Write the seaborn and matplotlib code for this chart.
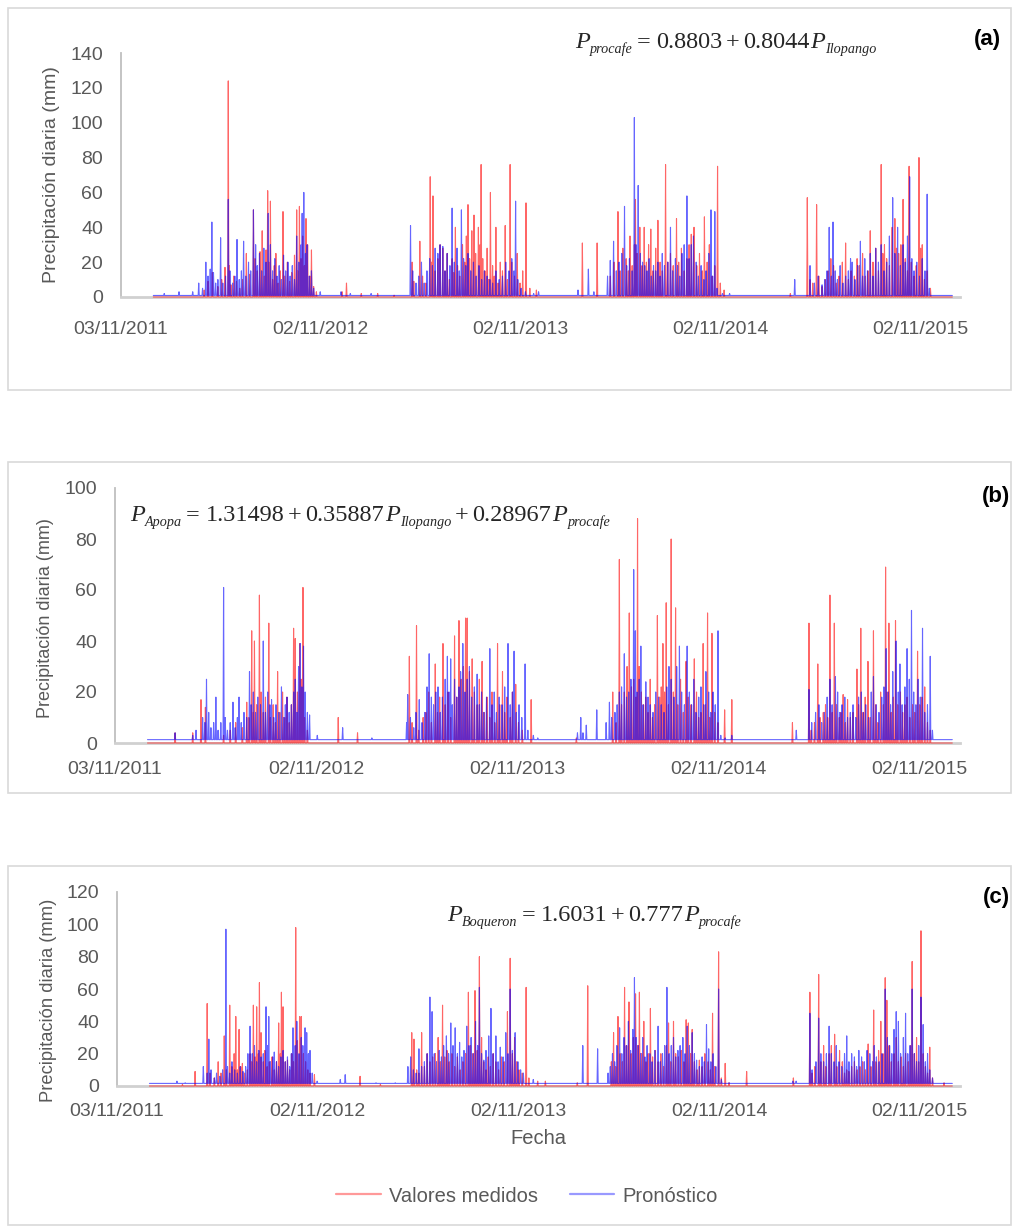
import numpy as np
import pandas as pd
import matplotlib
matplotlib.use("Agg")
import matplotlib.pyplot as plt
import matplotlib.dates as mdates
from matplotlib.patches import Rectangle
from matplotlib.lines import Line2D
import seaborn as sns

sns.set_theme(style="white")
plt.rcParams["font.family"] = ["Liberation Sans", "DejaVu Sans"]

# ---------------------------------------------------------------------------
# Datos: precipitación diaria (mm), días contados desde fecha_inicio
# ---------------------------------------------------------------------------
fecha_inicio = "2012-01-01"
fecha_fin = "2015-12-31"
ticks_fecha = ["2011-11-03", "2012-11-02", "2013-11-02", "2014-11-02", "2015-11-02"]
eje_inicio = "2011-11-03"
eje_fin = "2016-01-14"

intercepto = {"a": 0.8803, "b": 1.31498, "c": 1.6031}

# (a) Procafe
a_medidos = [
    (93, 4), (100, 9), (108, 14), (118, 6), (125, 10), (131, 17), (137, 124), (139, 18), (142, 7),
    (147, 12), (152, 9), (158, 5), (163, 10), (170, 25), (176, 13), (183, 50), (186, 22), (190, 15),
    (195, 26), (199, 38), (203, 12), (206, 27), (209, 61), (211, 20), (214, 55), (218, 10), (221, 18),
    (224, 25), (228, 8), (232, 15), (237, 49), (240, 12), (245, 20), (249, 9), (253, 14), (258, 24),
    (262, 50), (264, 15), (267, 52), (270, 22), (273, 35), (276, 18), (279, 45), (282, 30), (286, 12),
    (289, 27), (293, 6), (298, 3), (345, 3), (353, 8), (380, 2), (410, 2), (440, 1),
    (473, 20), (476, 9), (487, 32), (492, 12), (498, 8), (506, 69), (508, 20), (511, 58), (515, 15),
    (520, 22), (524, 30), (529, 28), (533, 15), (537, 25), (541, 10), (546, 22), (549, 14), (552, 40),
    (556, 18), (560, 12), (565, 30), (569, 20), (572, 35), (575, 53), (578, 22), (582, 38), (586, 47),
    (589, 25), (594, 40), (597, 30), (599, 76), (602, 22), (606, 15), (610, 28), (613, 10), (616, 60),
    (620, 18), (623, 12), (626, 40), (630, 8), (634, 20), (638, 15), (643, 41), (647, 10), (652, 76),
    (655, 20), (660, 12), (665, 25), (670, 8), (675, 15), (681, 54), (688, 5), (700, 4),
    (784, 31), (811, 31),
    (835, 12), (842, 20), (849, 49), (853, 15), (858, 28), (864, 22), (868, 15), (871, 35), (875, 18),
    (879, 30), (881, 56), (884, 25), (889, 40), (893, 18), (897, 40), (901, 20), (905, 30), (909, 39),
    (913, 15), (918, 28), (922, 44), (926, 20), (930, 15), (936, 76), (940, 20), (945, 25), (950, 18),
    (956, 45), (960, 20), (965, 28), (970, 15), (975, 22), (979, 30), (983, 36), (988, 40), (993, 18),
    (998, 25), (1003, 15), (1007, 46), (1012, 20), (1016, 30), (1021, 12), (1026, 18), (1031, 75),
    (1036, 8), (1043, 4), (1164, 2),
    (1195, 57), (1200, 10), (1205, 8), (1212, 53), (1216, 12), (1222, 6), (1228, 10), (1233, 15),
    (1238, 22), (1243, 18), (1248, 8), (1253, 12), (1259, 20), (1265, 31), (1270, 10), (1275, 15),
    (1281, 12), (1286, 22), (1290, 18), (1296, 25), (1301, 12), (1306, 15), (1310, 38), (1315, 20),
    (1320, 28), (1325, 15), (1330, 76), (1333, 25), (1336, 30), (1340, 22), (1345, 18), (1350, 40),
    (1355, 45), (1358, 28), (1362, 25), (1366, 30), (1370, 56), (1374, 22), (1378, 15), (1381, 75),
    (1385, 20), (1390, 12), (1394, 18), (1399, 80), (1402, 28), (1405, 30), (1409, 10), (1414, 15),
    (1420, 5),
]
a_pronostico = [
    (20, 2), (47, 3), (72, 3),
    (83, 8), (90, 5), (96, 20), (100, 12), (104, 16), (107, 43), (110, 14), (114, 8), (118, 10),
    (123, 34), (127, 8), (132, 12), (137, 56), (140, 15), (145, 8), (149, 12), (153, 33), (157, 10),
    (161, 15), (165, 32), (169, 12), (174, 20), (178, 15), (183, 50), (187, 30), (190, 18), (194, 25),
    (198, 15), (202, 28), (206, 20), (210, 48), (214, 30), (218, 15), (222, 22), (226, 12), (230, 18),
    (234, 10), (238, 24), (242, 15), (246, 20), (250, 12), (254, 18), (258, 10), (262, 35), (266, 20),
    (270, 30), (272, 48), (275, 60), (278, 25), (281, 30), (285, 12), (289, 15), (293, 5), (305, 3),
    (343, 3), (360, 2), (398, 2),
    (470, 41), (474, 15), (480, 8), (485, 12), (490, 20), (495, 8), (500, 15), (505, 22), (510, 18),
    (515, 28), (520, 25), (524, 30), (529, 29), (533, 15), (537, 25), (542, 18), (546, 51), (550, 20),
    (555, 28), (559, 15), (563, 50), (567, 22), (571, 18), (575, 25), (580, 15), (585, 20), (590, 12),
    (595, 18), (600, 10), (605, 15), (610, 12), (615, 10), (620, 8), (626, 15), (632, 10), (638, 12),
    (644, 20), (650, 15), (655, 22), (659, 15), (662, 55), (666, 10), (672, 5), (680, 3), (695, 2),
    (704, 3), (776, 4), (795, 16), (805, 3),
    (830, 12), (835, 21), (841, 32), (846, 15), (851, 20), (856, 25), (861, 52), (865, 18), (870, 22),
    (875, 15), (879, 103), (882, 30), (886, 64), (890, 25), (894, 20), (898, 18), (902, 15), (906, 22),
    (910, 12), (914, 18), (918, 15), (922, 20), (926, 12), (930, 25), (934, 18), (940, 20), (945, 40),
    (949, 15), (954, 22), (958, 18), (962, 12), (966, 25), (970, 30), (975, 58), (979, 22), (983, 30),
    (987, 35), (992, 20), (996, 12), (1001, 18), (1006, 10), (1010, 15), (1015, 25), (1019, 50),
    (1022, 12), (1026, 49), (1030, 5), (1040, 2), (1053, 2), (1172, 10),
    (1200, 18), (1208, 8), (1215, 12), (1222, 7), (1227, 10), (1231, 15), (1235, 40), (1239, 12),
    (1242, 43), (1246, 15), (1250, 10), (1255, 18), (1260, 8), (1265, 12), (1270, 15), (1274, 22),
    (1277, 20), (1282, 10), (1287, 18), (1292, 32), (1296, 12), (1300, 22), (1305, 15), (1310, 25),
    (1315, 12), (1320, 28), (1325, 20), (1330, 30), (1335, 15), (1340, 20), (1345, 35), (1351, 57),
    (1355, 25), (1360, 40), (1365, 18), (1370, 30), (1374, 20), (1378, 35), (1382, 69), (1386, 22),
    (1390, 15), (1395, 20), (1400, 12), (1405, 22), (1410, 15), (1414, 59), (1418, 5),
]

# (b) Apopa
b_medidos = [
    (50, 4), (82, 4), (97, 17), (105, 14), (138, 3), (150, 5), (160, 8), (172, 6), (180, 16),
    (184, 10), (189, 44), (192, 12), (194, 40), (198, 15), (203, 58), (206, 20), (210, 12), (214, 18),
    (220, 47), (223, 10), (228, 15), (232, 8), (236, 28), (240, 12), (245, 20), (249, 10), (253, 18),
    (257, 8), (261, 15), (265, 45), (268, 41), (272, 20), (276, 39), (279, 25), (282, 61), (285, 10),
    (290, 5), (346, 10), (381, 4),
    (475, 34), (480, 8), (488, 46), (492, 5), (500, 10), (505, 12), (510, 20), (515, 8), (522, 31),
    (526, 12), (530, 18), (536, 39), (540, 15), (545, 20), (550, 10), (557, 42), (561, 18), (565, 48),
    (569, 25), (573, 30), (577, 49), (580, 49), (584, 28), (589, 33), (593, 20), (598, 15), (602, 25),
    (607, 32), (611, 12), (616, 18), (621, 10), (625, 20), (630, 8), (635, 39), (639, 15), (644, 28),
    (648, 12), (652, 18), (658, 10), (662, 20), (668, 23), (673, 8), (680, 5), (696, 17), (778, 2),
    (844, 20), (850, 8), (856, 72), (860, 15), (865, 20), (870, 30), (874, 51), (878, 22), (882, 25),
    (886, 18), (889, 88), (892, 30), (896, 20), (900, 15), (904, 18), (908, 12), (912, 25), (916, 10),
    (920, 15), (925, 50), (929, 18), (932, 22), (935, 39), (938, 20), (941, 55), (945, 15), (950, 80),
    (954, 20), (958, 53), (962, 15), (967, 25), (972, 12), (977, 32), (981, 18), (986, 15), (992, 33),
    (996, 20), (1000, 10), (1004, 12), (1008, 39), (1012, 15), (1016, 51), (1020, 10), (1024, 43),
    (1029, 12), (1035, 8), (1047, 13), (1060, 17), (1170, 8),
    (1200, 47), (1204, 5), (1210, 8), (1216, 31), (1220, 10), (1226, 12), (1230, 15), (1234, 10),
    (1238, 58), (1242, 12), (1246, 47), (1250, 15), (1255, 10), (1258, 12), (1262, 19), (1266, 8),
    (1270, 17), (1275, 10), (1280, 12), (1287, 29), (1290, 15), (1294, 45), (1298, 12), (1302, 18),
    (1307, 32), (1311, 10), (1317, 44), (1321, 15), (1325, 8), (1330, 20), (1335, 15), (1339, 69),
    (1342, 20), (1345, 47), (1349, 12), (1353, 18), (1357, 48), (1361, 15), (1366, 20), (1370, 12),
    (1374, 15), (1378, 18), (1383, 10), (1388, 15), (1392, 12), (1397, 36), (1401, 15), (1405, 18),
    (1410, 22), (1415, 8), (1420, 5),
]
b_pronostico = [
    (50, 4), (82, 3), (88, 5), (100, 10), (104, 8), (107, 25), (111, 12), (115, 6), (120, 8),
    (124, 18), (128, 5), (133, 8), (138, 61), (141, 10), (145, 5), (150, 8), (155, 16), (159, 6),
    (163, 10), (166, 18), (170, 8), (175, 12), (180, 10), (185, 28), (188, 15), (192, 20), (196, 12),
    (200, 18), (205, 15), (210, 40), (214, 12), (218, 20), (222, 15), (225, 17), (229, 10), (233, 15),
    (238, 12), (243, 22), (247, 10), (250, 15), (253, 18), (257, 12), (261, 15), (265, 20), (268, 25),
    (271, 12), (274, 30), (277, 39), (280, 22), (283, 38), (286, 20), (290, 12), (294, 11), (308, 3),
    (354, 6), (407, 2),
    (470, 8), (472, 19), (477, 10), (483, 6), (487, 12), (493, 17), (498, 8), (503, 12), (507, 22),
    (511, 35), (515, 18), (519, 15), (523, 20), (527, 22), (531, 12), (535, 18), (540, 25), (544, 34),
    (547, 20), (550, 33), (553, 15), (557, 25), (561, 18), (565, 22), (568, 28), (572, 39), (576, 20),
    (580, 25), (584, 30), (588, 18), (593, 22), (598, 27), (602, 15), (606, 20), (610, 12), (615, 18),
    (621, 37), (625, 15), (629, 20), (633, 12), (638, 18), (643, 15), (648, 22), (654, 39), (658, 15),
    (662, 20), (665, 36), (669, 12), (674, 15), (679, 10), (685, 31), (690, 5), (700, 3), (708, 2),
    (780, 4), (786, 10), (790, 4), (796, 7), (815, 13),
    (832, 8), (838, 16), (842, 10), (848, 12), (852, 15), (856, 20), (860, 22), (865, 35), (869, 18),
    (873, 20), (877, 25), (882, 68), (885, 44), (888, 20), (892, 25), (895, 38), (899, 15), (904, 24),
    (908, 18), (912, 15), (917, 12), (922, 20), (927, 18), (932, 15), (937, 12), (942, 22), (946, 30),
    (950, 25), (955, 18), (960, 30), (965, 38), (969, 20), (974, 15), (979, 38), (983, 20), (987, 15),
    (991, 25), (995, 12), (1000, 18), (1004, 22), (1009, 15), (1013, 28), (1018, 20), (1022, 12),
    (1026, 20), (1030, 15), (1035, 44), (1040, 3), (1048, 2), (1060, 3), (1177, 5),
    (1200, 21), (1205, 8), (1212, 12), (1218, 15), (1223, 8), (1228, 12), (1233, 18), (1238, 25),
    (1242, 15), (1248, 26), (1252, 20), (1256, 12), (1260, 15), (1265, 18), (1270, 10), (1275, 12),
    (1280, 15), (1285, 10), (1290, 18), (1295, 20), (1299, 12), (1303, 15), (1308, 10), (1313, 20),
    (1317, 26), (1322, 15), (1327, 12), (1332, 18), (1336, 22), (1340, 37), (1344, 20), (1348, 15),
    (1352, 28), (1358, 40), (1362, 20), (1365, 31), (1369, 15), (1374, 22), (1378, 37), (1382, 25),
    (1386, 52), (1390, 20), (1394, 15), (1398, 25), (1402, 18), (1406, 45), (1410, 12), (1415, 15),
    (1420, 34), (1424, 5),
]

# (c) Boquerón
c_medidos = [
    (60, 1), (83, 9), (105, 51), (110, 8), (118, 5), (125, 15), (130, 8), (136, 31), (140, 10),
    (146, 50), (150, 12), (154, 20), (157, 43), (160, 10), (163, 35), (166, 12), (169, 14), (173, 8),
    (178, 10), (183, 20), (186, 15), (189, 50), (192, 18), (195, 49), (198, 20), (200, 64), (203, 33),
    (207, 15), (210, 22), (214, 12), (218, 15), (223, 18), (227, 10), (231, 15), (235, 39), (238, 20),
    (240, 58), (243, 49), (247, 15), (251, 16), (255, 10), (259, 20), (262, 15), (266, 98), (269, 28),
    (273, 43), (276, 43), (280, 20), (284, 15), (288, 10), (292, 8), (300, 7), (383, 6), (420, 1),
    (477, 33), (481, 29), (486, 10), (490, 8), (495, 33), (500, 12), (505, 20), (510, 15), (515, 18),
    (520, 20), (525, 30), (529, 15), (533, 50), (537, 18), (541, 22), (545, 15), (550, 20), (555, 12),
    (560, 18), (565, 10), (570, 15), (575, 20), (580, 58), (584, 25), (588, 20), (592, 59), (596, 22),
    (600, 80), (604, 30), (608, 15), (612, 10), (616, 18), (620, 12), (625, 20), (630, 15), (635, 10),
    (640, 18), (645, 15), (651, 46), (656, 79), (660, 20), (664, 30), (668, 15), (672, 10), (678, 8),
    (685, 61), (690, 5), (706, 3), (720, 3), (778, 2), (797, 62),
    (840, 15), (844, 33), (848, 12), (852, 43), (856, 20), (860, 15), (864, 61), (868, 25), (872, 52),
    (876, 20), (880, 30), (884, 57), (888, 25), (891, 58), (895, 20), (899, 40), (903, 15), (907, 20),
    (911, 48), (915, 18), (920, 22), (925, 15), (930, 20), (935, 12), (940, 25), (944, 39), (948, 15),
    (953, 40), (957, 20), (962, 18), (967, 22), (972, 15), (976, 41), (980, 39), (984, 20), (987, 35),
    (991, 15), (996, 10), (1000, 16), (1005, 12), (1010, 20), (1016, 15), (1020, 10), (1024, 45),
    (1028, 12), (1035, 83), (1040, 5), (1047, 14), (1054, 2), (1086, 9), (1171, 5),
    (1201, 58), (1205, 8), (1210, 12), (1217, 69), (1221, 15), (1226, 25), (1230, 12), (1236, 20),
    (1240, 25), (1246, 32), (1250, 12), (1255, 22), (1260, 15), (1264, 8), (1268, 10), (1272, 9),
    (1277, 12), (1282, 15), (1287, 10), (1292, 12), (1297, 15), (1302, 10), (1307, 26), (1312, 12),
    (1317, 47), (1321, 15), (1326, 22), (1330, 40), (1334, 20), (1338, 67), (1341, 53), (1345, 25),
    (1349, 15), (1354, 20), (1358, 30), (1362, 15), (1367, 18), (1371, 12), (1375, 20), (1380, 15),
    (1384, 25), (1387, 77), (1391, 20), (1395, 30), (1399, 15), (1403, 96), (1407, 20), (1411, 12),
    (1415, 8), (1419, 24), (1424, 5), (1445, 2),
]
c_pronostico = [
    (50, 3), (65, 2), (98, 12), (105, 8), (108, 29), (112, 10), (118, 5), (122, 8), (128, 6),
    (133, 10), (139, 97), (142, 12), (146, 8), (150, 15), (155, 10), (160, 8), (165, 12), (170, 9),
    (175, 12), (179, 20), (183, 37), (187, 20), (191, 25), (195, 15), (199, 22), (203, 18), (207, 20),
    (212, 49), (215, 25), (217, 43), (220, 15), (224, 18), (227, 21), (231, 15), (235, 12), (239, 18),
    (243, 22), (247, 15), (251, 18), (255, 12), (258, 20), (261, 36), (265, 25), (268, 40), (272, 20),
    (276, 30), (279, 25), (283, 36), (286, 33), (289, 20), (292, 22), (296, 8), (305, 3), (347, 4),
    (356, 7), (412, 2), (447, 2),
    (470, 12), (475, 18), (480, 10), (485, 8), (490, 23), (495, 12), (500, 15), (505, 20), (510, 55),
    (514, 46), (518, 20), (522, 15), (527, 22), (531, 18), (535, 25), (540, 31), (544, 20), (548, 39),
    (552, 25), (556, 36), (560, 20), (564, 27), (568, 18), (572, 22), (577, 37), (581, 25), (585, 30),
    (589, 20), (593, 40), (597, 25), (600, 61), (604, 20), (608, 16), (612, 22), (617, 31), (621, 48),
    (625, 20), (630, 31), (634, 15), (638, 24), (643, 18), (648, 33), (652, 20), (656, 60), (660, 22),
    (665, 33), (670, 15), (675, 10), (680, 8), (698, 4), (788, 25), (815, 23),
    (834, 8), (838, 12), (842, 20), (846, 15), (850, 25), (855, 36), (859, 20), (863, 30), (867, 25),
    (871, 40), (875, 22), (879, 35), (882, 67), (885, 30), (889, 25), (893, 20), (897, 30), (901, 18),
    (905, 25), (910, 20), (914, 15), (919, 22), (925, 37), (929, 15), (933, 20), (937, 25), (941, 61),
    (945, 20), (949, 25), (953, 30), (957, 18), (961, 22), (965, 25), (970, 30), (974, 20), (978, 37),
    (982, 25), (987, 33), (991, 20), (995, 16), (1000, 12), (1005, 18), (1009, 15), (1013, 38),
    (1017, 23), (1021, 15), (1025, 20), (1030, 12), (1035, 60), (1040, 4), (1054, 2), (1170, 3),
    (1176, 3),
    (1201, 45), (1205, 10), (1212, 15), (1217, 42), (1221, 20), (1226, 15), (1231, 20), (1236, 37),
    (1240, 20), (1245, 15), (1249, 25), (1254, 15), (1259, 12), (1264, 20), (1268, 31), (1272, 15),
    (1277, 20), (1282, 18), (1286, 12), (1290, 22), (1295, 18), (1300, 15), (1305, 22), (1310, 20),
    (1315, 15), (1318, 25), (1322, 18), (1327, 15), (1332, 20), (1338, 60), (1342, 30), (1346, 25),
    (1350, 20), (1354, 35), (1358, 46), (1362, 40), (1366, 20), (1371, 30), (1375, 45), (1379, 20),
    (1383, 25), (1387, 60), (1391, 20), (1395, 15), (1399, 25), (1403, 55), (1407, 38), (1411, 15),
    (1415, 20), (1419, 10), (1424, 5),
]

# Ecuaciones de regresión, como secuencia de piezas: variable, subíndice, texto o espacio (px)
ecuacion_a = [("P", "var"), ("procafe", "sub"), (4, "esp"), ("=", "txt"), (6, "esp"),
              ("0.8803", "txt"), (3, "esp"), ("+", "txt"), (4, "esp"), ("0.8044", "txt"),
              (1, "esp"), ("P", "var"), ("Ilopango", "sub")]
ecuacion_b = [("P", "var"), ("Apopa", "sub"), (4, "esp"), ("=", "txt"), (6, "esp"),
              ("1.31498", "txt"), (3, "esp"), ("+", "txt"), (4, "esp"), ("0.35887", "txt"),
              (1, "esp"), ("P", "var"), ("Ilopango", "sub"), (4, "esp"), ("+", "txt"), (4, "esp"),
              ("0.28967", "txt"), (1, "esp"), ("P", "var"), ("procafe", "sub")]
ecuacion_c = [("P", "var"), ("Boqueron", "sub"), (4, "esp"), ("=", "txt"), (6, "esp"),
              ("1.6031", "txt"), (3, "esp"), ("+", "txt"), (4, "esp"), ("0.777", "txt"),
              (1, "esp"), ("P", "var"), ("procafe", "sub")]

etiquetas_panel = ["(a)", "(b)", "(c)"]
nombres_serie = ["Valores medidos", "Pronóstico"]
ymax_panel = [140, 100, 120]

GRIS_TEXTO = "#595959"
ROJO = "#ff0000"
AZUL = "#0000ff"


def serie_diaria(pares, base):
    fechas = pd.date_range(fecha_inicio, fecha_fin, freq="D")
    valores = np.full(len(fechas), float(base))
    for dia, mm in pares:
        valores[dia] = mm
    return pd.DataFrame({"fecha": fechas, "mm": valores})


W, H = 1020, 1226
fig = plt.figure(figsize=(W / 100, H / 100), dpi=100)
fig.patch.set_facecolor("white")
renderer = fig.canvas.get_renderer()


def px_rect(x0, y0, x1, y1):
    return [x0 / W, 1 - y1 / H, (x1 - x0) / W, (y1 - y0) / H]


def dibujar_ecuacion(x_px, y_base, piezas, tam=17.5, tam_sub=10.2, baja_sub=5):
    x = x_px
    for contenido, tipo in piezas:
        if tipo == "esp":
            x += contenido
            continue
        if tipo == "sub":
            t = fig.text(x / W, 1 - (y_base + baja_sub) / H, contenido, fontsize=tam_sub,
                         family="Liberation Serif", fontstyle="italic", ha="left", va="baseline")
        elif tipo == "var":
            t = fig.text(x / W, 1 - y_base / H, contenido, fontsize=tam,
                         family="Liberation Serif", fontstyle="italic", ha="left", va="baseline")
        else:
            t = fig.text(x / W, 1 - y_base / H, contenido, fontsize=tam,
                         family="Liberation Serif", ha="left", va="baseline")
        x += t.get_window_extent(renderer).width


# marcos de cada panel
for (x0, y0, x1, y1) in [(8, 8, 1011, 390), (8, 462, 1011, 793), (8, 866, 1011, 1225)]:
    r = px_rect(x0, y0, x1, y1)
    fig.add_artist(Rectangle((r[0], r[1]), r[2], r[3], transform=fig.transFigure,
                             fill=False, edgecolor="#d9d9d9", linewidth=1.2))

ejes = [
    fig.add_axes(px_rect(121, 53, 960, 297)),
    fig.add_axes(px_rect(115, 488, 960, 743)),
    fig.add_axes(px_rect(117, 892, 960, 1086)),
]

datos = [
    (a_medidos, a_pronostico, intercepto["a"]),
    (b_medidos, b_pronostico, intercepto["b"]),
    (c_medidos, c_pronostico, intercepto["c"]),
]
pads_x = [17, 13, 12]
ylabel_y = [0.5, 0.49, 0.44]
ylabel_x = [-0.073, -0.072, -0.071]
ylabel_tam = [14, 13, 13.2]

for ax, (med, pron, base), ymax, padx, ly, lx, lt in zip(ejes, datos, ymax_panel, pads_x,
                                                          ylabel_y, ylabel_x, ylabel_tam):
    df_med = serie_diaria(med, 0.0)
    df_pron = serie_diaria(pron, base)
    sns.lineplot(data=df_med, x="fecha", y="mm", ax=ax, color=ROJO, linewidth=0.8,
                 alpha=0.6, estimator=None, legend=False, zorder=3)
    sns.lineplot(data=df_pron, x="fecha", y="mm", ax=ax, color=AZUL, linewidth=0.8,
                 alpha=0.6, estimator=None, legend=False, zorder=4)
    ax.set_xlim(pd.Timestamp(eje_inicio), pd.Timestamp(eje_fin))
    ax.set_ylim(0, ymax)
    ax.set_yticks(range(0, ymax + 1, 20))
    ax.set_xticks(pd.to_datetime(ticks_fecha))
    ax.xaxis.set_major_formatter(mdates.DateFormatter("%d/%m/%Y"))
    for s in ["top", "right"]:
        ax.spines[s].set_visible(False)
    ax.spines["left"].set_color("#bfbfbf")
    ax.spines["left"].set_linewidth(1.3)
    ax.spines["bottom"].set_color("#d0d0d0")
    ax.spines["bottom"].set_linewidth(2.0)
    ax.tick_params(length=0, labelsize=14, labelcolor=GRIS_TEXTO)
    ax.tick_params(axis="y", pad=13)
    ax.tick_params(axis="x", pad=padx)
    ax.set_xlabel("")
    ax.set_ylabel("Precipitación diaria (mm)", fontsize=lt, color=GRIS_TEXTO)
    ax.yaxis.set_label_coords(lx, ly)
    ax.set_facecolor("none")
    for ln in ax.lines:
        ln.set_clip_on(False)

dibujar_ecuacion(575, 48, ecuacion_a, tam=17.5)
dibujar_ecuacion(130, 521, ecuacion_b, tam=17.5)
dibujar_ecuacion(447, 921, ecuacion_c, tam=17.5)

# etiquetas de panel
for etiqueta, (x, y) in zip(etiquetas_panel, [(974, 39), (982, 496), (983, 897)]):
    fig.text(x / W, 1 - y / H, etiqueta, fontsize=16, fontweight="bold", ha="left", va="center",
             color="black")

fig.text(538 / W, 1 - 1138 / H, "Fecha", fontsize=14.5, ha="center", va="center", color=GRIS_TEXTO)

manejadores = [Line2D([0], [0], color="#ff9999", linewidth=1.6),
               Line2D([0], [0], color="#9999ff", linewidth=1.6)]
ley = fig.legend(manejadores, nombres_serie, loc="center", bbox_to_anchor=(527 / W, 1 - 1196 / H),
                 ncol=2, frameon=False, fontsize=14.5, handlelength=2.2, columnspacing=1.6,
                 handletextpad=0.4)
for t in ley.get_texts():
    t.set_color(GRIS_TEXTO)

fig.savefig("out.png", dpi=100)
